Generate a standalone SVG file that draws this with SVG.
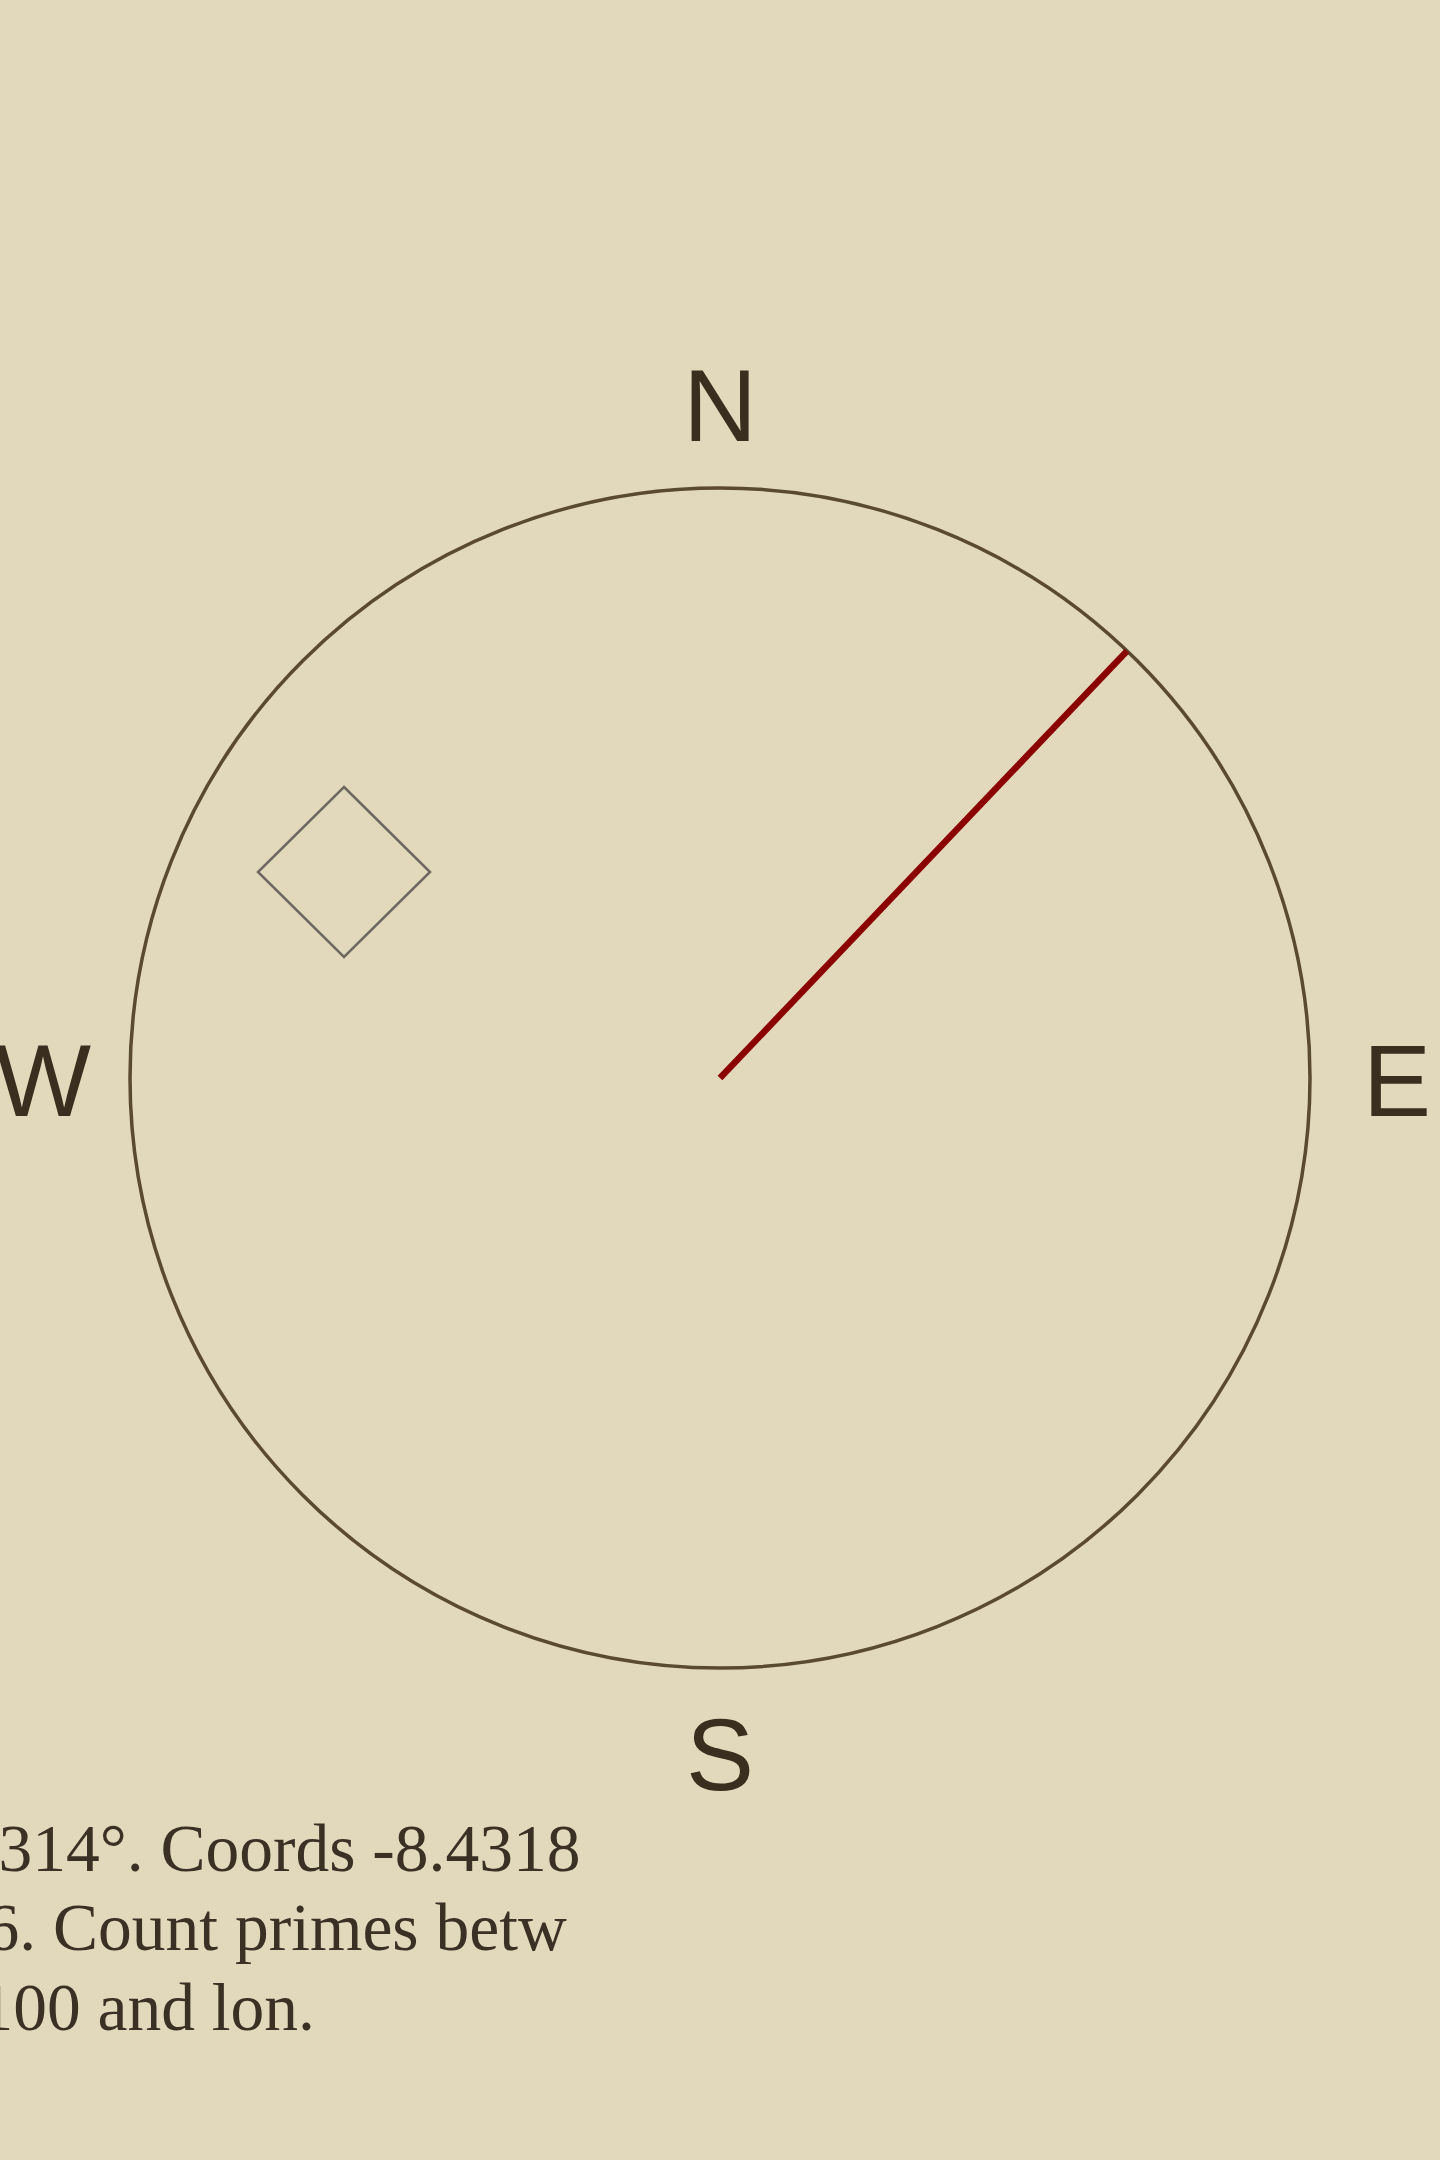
<svg xmlns="http://www.w3.org/2000/svg" width="1440" height="2160" viewBox="0 0 1440 2160">
<style>
.lbl{font-family:"Liberation Sans",Arial,sans-serif;font-size:102px;fill:#3a2e1e;text-anchor:middle}
.note{font-family:"Liberation Serif","Times New Roman",serif;font-size:67.5px;fill:#3a3024}
</style>
<rect x="0" y="0" width="1440" height="2160" fill="#e2d9bc"/>
<g id="dial">
<circle cx="720" cy="1078" r="590" fill="none" stroke="#5a4a30" stroke-width="3.5"/>
</g>
<g id="labels">
<text id="label-n" class="lbl" x="720" y="441">N</text>
<text id="label-s" class="lbl" x="720" y="1790">S</text>
<text id="label-e" class="lbl" x="1397" y="1116">E</text>
<text id="label-w" class="lbl" x="43" y="1116">W</text>
</g>
<g id="marker-diamond">
<polygon points="344,787 430,872 344,957 258,872" fill="none" stroke="#6e6860" stroke-width="2.5"/>
</g>
<g id="connectors">
<line x1="720" y1="1078" x2="1127" y2="651" stroke="#8b0000" stroke-width="6.5"/>
</g>
<g id="note">
<text class="note" x="-1.6" y="1871">314°. Coords -8.4318</text>
<text class="note" x="-14.5" y="1950">6. Count primes betw</text>
<text class="note" x="-20.6" y="2030">100 and lon.</text>
</g>
</svg>
